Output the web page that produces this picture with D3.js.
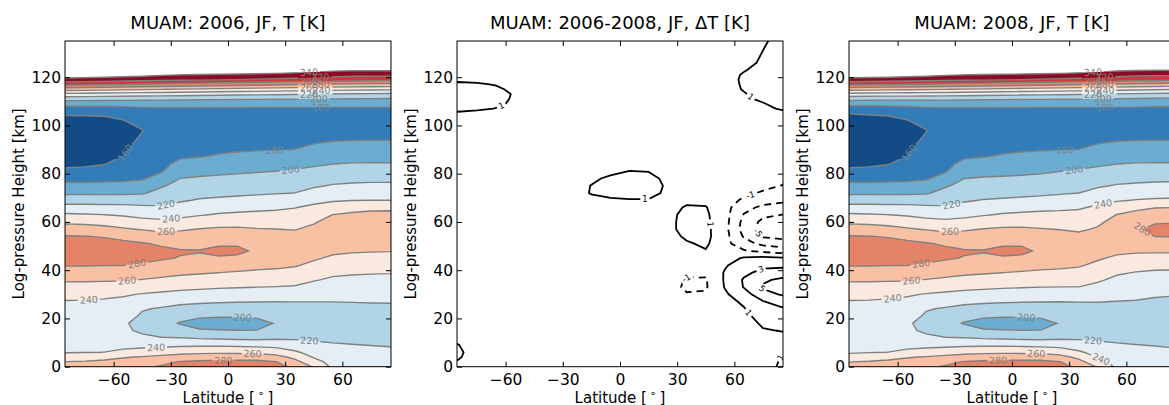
<!DOCTYPE html>
<html>
<head>
<meta charset="utf-8">
<script src="https://cdn.jsdelivr.net/npm/d3@7"></script>
<style>
  body { margin: 0; background: #fff; }
  svg { display: block; font-family: "DejaVu Sans", sans-serif; }
</style>
</head>
<body>
<svg id="fig" width="1169" height="405"></svg>
<script>
// ---- grid coordinates -------------------------------------------------------
const latitudes = [-85, -75, -65, -55, -45, -35, -25, -15, -5, 5, 15, 25, 35, 45, 55, 65, 75, 85];
const heights = [0, 2, 4, 6, 9, 12, 15, 18, 21, 24, 27, 30, 33, 36, 39, 42, 45, 48, 51, 54, 57, 60,
  63, 66, 69, 72, 75, 78, 81, 84, 87, 90, 94, 98, 102, 105, 107, 109, 111, 113, 115, 117, 119,
  121, 123, 126, 135];

// ---- zonal-mean temperature, January/February 2006 [K] (rows: heights, cols: latitudes)
const temp2006 = [
  [266, 268, 270, 272, 276, 282, 287, 290, 292, 292, 291, 286, 276, 258, 236, 233, 232, 232],
  [260.6, 261.8, 263.8, 265.7, 268.6, 274.7, 281.2, 282.9, 284, 284, 284.4, 280.8, 266, 247.7, 232.7, 230.2, 229.3, 229.1],
  [248.1, 250.7, 254.3, 258.5, 261.1, 264.2, 268.2, 270.4, 271.7, 271.7, 270.8, 266.4, 255.2, 238.5, 229.5, 227.4, 226.5, 226.2],
  [239, 239.4, 240.1, 243.7, 248.7, 252, 254.4, 255.6, 256.3, 256.1, 255.3, 252.5, 243, 232.5, 226.2, 224.6, 223.8, 223.3],
  [234.7, 234.9, 234.7, 235, 233.8, 234.5, 236.2, 236.8, 237, 236, 234.6, 232.9, 227.8, 223.6, 221.3, 220.4, 219.7, 218.9],
  [230.4, 230.5, 229.3, 229, 222.9, 220.4, 220.1, 217.8, 216.4, 215, 214.6, 216.8, 217.2, 217, 216.8, 216.3, 214.9, 214],
  [226, 226, 224, 222.5, 217.5, 214.2, 208, 201.6, 201, 200.3, 200.3, 208.9, 211.1, 212, 212.4, 212.1, 210.2, 209.2],
  [228, 228, 226.5, 222.5, 214, 208, 198.5, 194, 192, 192, 194, 201, 205, 207, 208, 208, 208.4, 207.5],
  [231, 231, 231, 228, 217.3, 213.1, 205.9, 202.4, 201.7, 201.6, 202.4, 207.3, 210, 211.3, 212, 212.1, 212.5, 212],
  [234.5, 234.5, 234, 232.3, 221.5, 218.3, 214.7, 212.5, 211.7, 211.3, 211.5, 213.7, 215, 215.7, 216.1, 216.3, 216.6, 216.5],
  [239, 238.7, 237.9, 236.5, 230.3, 226.7, 224.1, 222.8, 221.7, 221, 220.6, 220.2, 220.2, 220.2, 220.2, 220.5, 220.8, 221.1],
  [246.1, 245.1, 243.6, 241.7, 239.1, 236.7, 234.5, 233, 231.9, 231, 230.3, 229.7, 229.2, 227.1, 225.8, 225.7, 225.8, 226],
  [253.9, 253.5, 252.7, 251.7, 249.2, 246.7, 244.6, 243.2, 241.8, 240.9, 240.1, 239.4, 238.5, 234.1, 231.5, 231, 230.8, 230.8],
  [262.3, 262.2, 261.9, 261.5, 259.4, 256.7, 254.4, 252.7, 250.9, 249.7, 248.7, 248, 246.7, 241.3, 237.2, 236.2, 235.8, 235.7],
  [272, 271.7, 271.3, 270.8, 268.9, 266.2, 263.3, 261.8, 260.1, 258.5, 257.4, 256.6, 254.7, 248.8, 243.5, 241.8, 241.1, 240.7],
  [280.9, 280.8, 280.3, 280.1, 278.4, 275.4, 271, 269.4, 269, 267.5, 264.4, 263.1, 261.3, 256.3, 250.6, 248.6, 247.8, 247.3],
  [286.5, 286.4, 285.2, 284.5, 283, 281.7, 279.2, 277, 277.9, 276.4, 270.7, 268.2, 265.3, 262, 257.6, 255.5, 254.4, 254],
  [292, 292, 290, 289, 285.8, 282.9, 281.5, 281, 285, 284, 277, 273.3, 269.3, 266, 262.7, 261.7, 261.1, 260.7],
  [286.5, 286.2, 284.5, 283.6, 281.3, 278.2, 273.8, 273.3, 277.1, 277.9, 271.6, 271.3, 270.2, 270, 266.7, 266.9, 267.4, 267.2],
  [281.1, 280.4, 279.1, 275.6, 271.5, 267.3, 266.3, 267, 269.8, 270.3, 266.3, 265.6, 264.8, 266.5, 270.7, 272.1, 275, 275],
  [269.6, 268.3, 266, 262.2, 258.7, 256, 258, 260.6, 262.4, 262.6, 260.9, 260.2, 259.3, 262.9, 269, 274.5, 277.5, 277.5],
  [256.4, 255.3, 253.3, 250, 246.3, 244, 246, 249.6, 252.6, 253.3, 252.9, 252.5, 252.7, 258.8, 264.5, 269, 273.3, 273.5],
  [242.7, 241.4, 240.2, 237.9, 234.5, 232.7, 235.4, 238.6, 241.5, 243.3, 244.3, 245, 246.2, 251.3, 260.1, 263, 264.3, 264.5],
  [227.4, 226.8, 226, 225.4, 223.6, 221.8, 226.2, 230, 232.1, 233.8, 235.4, 236.9, 239.4, 243.8, 248.7, 253, 255.8, 256.2],
  [211.6, 211.6, 211.3, 211.5, 211.1, 213.8, 218, 221.4, 223, 224.6, 226.2, 227.7, 229.7, 235.4, 238.1, 239.4, 239.9, 239.9],
  [196.9, 196.9, 196.8, 197.1, 198, 206.3, 212, 214.7, 215.8, 216.8, 217.9, 218.9, 220.1, 226.2, 229.7, 231.1, 231.8, 231.8],
  [185.1, 185.1, 184.8, 184.6, 186, 198, 206, 208.4, 209.5, 210.5, 211.6, 212.6, 214, 217.8, 221.4, 222.8, 223.6, 223.6],
  [173.6, 174, 175.1, 176.6, 178.5, 186, 200.1, 202.1, 203.2, 204.2, 205.3, 206.3, 208, 211.1, 214.1, 215.3, 215.9, 215.9],
  [162.3, 163.5, 166.8, 171.2, 175.4, 178.6, 192, 194.7, 196.3, 197.6, 198.8, 200.1, 202, 204.4, 207.1, 208.2, 208.5, 208.5],
  [157.5, 157.8, 159.5, 165.9, 172.3, 176, 184, 186.7, 188.8, 190.2, 191.6, 192.8, 195, 197.6, 199.9, 201.1, 201.1, 201.1],
  [154.4, 154.5, 156.6, 160.5, 169.2, 173.2, 178.4, 179.5, 181.3, 182.9, 184.3, 185.5, 187.5, 190.6, 193.3, 194.4, 194.6, 194.6],
  [151.2, 151.2, 153.8, 158.2, 166.1, 170.5, 175.3, 176.7, 177.9, 178.5, 179.1, 179.4, 180.1, 183.5, 186.7, 187.8, 188, 188],
  [148.4, 148.4, 150, 155.6, 162.1, 166.9, 171.2, 172.9, 174.4, 175.2, 175.9, 176.1, 176.4, 177.6, 178.9, 179.4, 179.6, 179.7],
  [153.3, 153.2, 153.9, 156.9, 159.6, 169.2, 169.1, 170.9, 171, 172, 172.8, 172.8, 172.9, 173.9, 174.3, 174.5, 174.6, 174.6],
  [157.5, 157.5, 157.8, 159.4, 165.9, 173.6, 173.5, 174.5, 174.6, 175.2, 174.7, 174.7, 174.7, 174, 174, 174, 174, 174],
  [161, 161.2, 161.5, 165, 172.9, 176.8, 176.7, 177.3, 177.3, 177.6, 177.4, 177.4, 177.4, 177, 177, 177, 177, 177],
  [172, 172.5, 173, 175, 177.6, 178, 178, 178, 178, 178, 178, 178, 178, 178, 178, 178, 178, 178],
  [188.3, 188, 188, 187.8, 187.5, 187.3, 187, 186.8, 186.7, 186.6, 186.4, 186.2, 186, 185.8, 185.7, 185.5, 185.4, 185.3],
  [207.5, 206.8, 206.2, 205.5, 204.8, 204.1, 203.5, 202.8, 202.2, 201.8, 201.4, 201, 200.6, 200.2, 199.8, 199.4, 199, 198.7],
  [235.4, 234.2, 233, 231.8, 230.6, 229.4, 228.2, 227, 225.7, 224.7, 223.7, 222.7, 221.6, 220.5, 219.4, 218.3, 217.7, 217.1],
  [269.1, 267.4, 265.7, 264, 262.2, 260.5, 258.8, 257.1, 255.4, 253.9, 252.4, 250.9, 249.4, 247.9, 246.4, 244.9, 243.9, 242.9],
  [305.5, 303.5, 301.4, 299.4, 297.3, 295.3, 293.2, 291.2, 289.1, 287.3, 285.4, 283.6, 281.7, 279.9, 278, 276.2, 274.7, 273.3],
  [333.3, 331.9, 330.4, 329, 327.5, 326.1, 324.6, 323.2, 321.7, 320.1, 318.2, 316.5, 314.8, 313, 311.3, 309.6, 308.1, 306.7],
  [352.6, 351.7, 350, 348, 345.4, 341.8, 340.2, 339.1, 338.2, 337.3, 336.4, 334.6, 332.8, 330, 326.5, 324.7, 324.7, 324.7],
  [370.6, 369.7, 368, 366, 363.4, 359.8, 358, 357.1, 356.2, 355.3, 354.4, 352.6, 350.8, 348, 344.5, 342.7, 342.7, 342.7],
  [397.6, 396.7, 395, 393, 390.4, 386.8, 385, 384.1, 383.2, 382.3, 381.4, 379.6, 377.8, 375, 371.5, 369.7, 369.7, 369.7],
  [451.6, 450.7, 449, 447, 444.4, 440.8, 439, 438.1, 437.2, 436.3, 435.4, 433.6, 431.8, 429, 425.5, 423.7, 423.7, 423.7]
];

// ---- temperature difference 2006 minus 2008 [K], same grid
const deltaT = [
  [0.6, 0.3, 0, 0, 0, 0, 0, 0, 0, 0, 0, 0, 0, 0, 0, 0, 0.4, 1.25],
  [0.9, 0.3, 0, 0, 0, 0, 0, 0, 0, 0, 0, 0, 0, 0, 0, 0.1, 0.4, 1.15],
  [1.15, 0.4, 0, 0, 0, 0, 0, 0, 0, 0, 0, 0, 0, 0, 0, 0.1, 0.3, 1.05],
  [1.25, 0.4, 0, 0, 0, 0, 0, 0, 0, 0, 0, 0, 0, 0, 0, 0.1, 0.2, 0.8],
  [1.05, 0.3, 0, 0, 0, 0, 0, 0, 0, 0, 0, 0, 0, 0, 0, 0.1, 0.3, 0.6],
  [0.6, 0.2, 0, 0, 0, 0, 0, 0, 0, 0, 0, 0, 0, 0, 0, 0.2, 0.4, 0.7],
  [0.2, 0, 0, 0, 0, 0, 0, 0, 0, 0, 0, 0, 0, 0, 0.1, 0.3, 0.9, 1.05],
  [0, 0, 0, 0, 0, 0, 0, 0, 0, 0, 0, 0, 0, 0, 0.1, 0.4, 1.2, 1.4],
  [0, 0, 0, 0, 0, 0, 0, 0, 0, 0, 0, 0, 0, 0, 0.2, 0.6, 1.6, 2.0],
  [0, 0, 0, 0, 0, 0, 0, 0, 0, 0, 0, 0, 0, 0, 0.3, 0.9, 2.2, 2.8],
  [0, 0, 0, 0, 0, 0, 0, 0, 0, 0, 0, 0, -0.2, -0.2, 0.4, 1.3, 2.9, 3.8],
  [0, 0, 0, 0, 0, 0, 0, 0, 0, 0, 0, -0.3, -0.9, -0.8, 0.7, 2.2, 4.2, 5.2],
  [0, 0, 0, 0, 0, 0, 0, 0, 0, 0, 0, -0.4, -1.25, -1.2, 1.1, 3.1, 5.3, 6.0],
  [0, 0, 0, 0, 0, 0, 0, 0, 0, 0, 0, -0.3, -1.15, -1.15, 1.2, 3.2, 4.6, 5.5],
  [0, 0, 0, 0, 0, 0, 0, 0, 0, 0, 0, -0.1, -0.6, -0.7, 1.15, 2.6, 3.5, 3.6],
  [0, 0, 0, 0, 0, 0, 0, 0, 0, 0, 0, 0, -0.2, -0.2, 0.8, 2.0, 2.6, 2.7],
  [0, 0, 0, 0, 0, 0, 0, 0, 0, 0, 0, 0, 0, 0.3, 0.2, 1.2, 1.5, 1.2],
  [0, 0, 0, 0, 0, 0, 0, 0, 0, 0, 0, 0, 0.3, 0.9, -0.5, -0.8, -1.5, -2],
  [0, 0, 0, 0, 0, 0, 0, 0, 0, 0, 0, 0.1, 0.8, 1.3, -0.4, -2.2, -3.5, -4],
  [0, 0, 0, 0, 0, 0, 0, 0, 0, 0, 0, 0.3, 1.3, 1.5, -0.3, -3.2, -5.2, -5.6],
  [0, 0, 0, 0, 0, 0, 0, 0, 0, 0, 0, 0.6, 1.5, 1.5, -0.4, -3.8, -5.8, -6],
  [0, 0, 0, 0, 0, 0, 0, 0, 0, 0, 0, 0.6, 1.5, 1.4, -0.3, -3.6, -5.5, -5.8],
  [0, 0, 0, 0, 0, 0, 0, 0, 0, 0, 0, 0.6, 1.4, 1.3, -0.3, -3.1, -4.6, -5],
  [0, 0, 0, 0, 0, 0, 0, 0, 0, 0, 0, 0.3, 1.2, 1.1, -0.3, -2.4, -3.4, -3.8],
  [0, 0, 0, 0, 0, 0, 0.1, 0.6, 0.8, 0.9, 0.9, 0.4, 0.6, 0.6, -0.2, -1.3, -2.2, -2.6],
  [0, 0, 0, 0, 0, 0, 0.3, 1.1, 1.4, 1.5, 1.5, 0.7, 0.2, 0.1, 0, -0.6, -1.2, -1.7],
  [0, 0, 0, 0, 0, 0, 0.3, 1.05, 1.5, 1.6, 1.6, 0.8, 0, 0, 0, -0.2, -0.6, -1.05],
  [0, 0, 0, 0, 0, 0, 0.2, 0.7, 1.3, 1.4, 1.5, 0.6, 0, 0, 0, 0, -0.2, -0.5],
  [0, 0, 0, 0, 0, 0, 0, 0.3, 0.6, 1.05, 0.95, 0.3, 0, 0, 0, 0, 0, -0.1],
  [0, 0, 0, 0, 0, 0, 0, 0, 0, 0, 0, 0, 0, 0, 0, 0, 0, 0],
  [0, 0, 0, 0, 0, 0, 0, 0, 0, 0, 0, 0, 0, 0, 0, 0, 0, 0],
  [0, 0, 0, 0, 0, 0, 0, 0, 0, 0, 0, 0, 0, 0, 0, 0, 0, 0],
  [0, 0, 0, 0, 0, 0, 0, 0, 0, 0, 0, 0, 0, 0, 0, 0, 0, 0],
  [0, 0, 0, 0, 0, 0, 0, 0, 0, 0, 0, 0, 0, 0, 0, 0, 0, 0],
  [0, 0, 0, 0, 0, 0, 0, 0, 0, 0, 0, 0, 0, 0, 0, 0, 0, 0],
  [0.8, 0.5, 0.2, 0, 0, 0, 0, 0, 0, 0, 0, 0, 0, 0, 0.1, 0.1, 0.3, 0.6],
  [1.4, 1.3, 0.95, 0.5, 0, 0, 0, 0, 0, 0, 0, 0, 0, 0, 0.2, 0.2, 0.6, 1.2],
  [1.6, 1.5, 1.3, 0.7, 0.1, 0, 0, 0, 0, 0, 0, 0, 0, 0, 0.3, 0.4, 0.9, 1.6],
  [1.7, 1.6, 1.45, 0.8, 0.1, 0, 0, 0, 0, 0, 0, 0, 0, 0, 0.3, 0.7, 1.3, 1.7],
  [1.7, 1.6, 1.5, 0.85, 0.1, 0, 0, 0, 0, 0, 0, 0, 0, 0, 0.4, 0.9, 1.5, 1.7],
  [1.6, 1.5, 1.3, 0.6, 0, 0, 0, 0, 0, 0, 0, 0, 0, 0, 0.45, 1.1, 1.5, 1.7],
  [1.3, 1.2, 0.9, 0.3, 0, 0, 0, 0, 0, 0, 0, 0, 0, 0, 0.5, 1.15, 1.5, 1.7],
  [0.7, 0.6, 0.4, 0.1, 0, 0, 0, 0, 0, 0, 0, 0, 0, 0, 0.5, 1.2, 1.5, 1.7],
  [0.2, 0.2, 0.1, 0, 0, 0, 0, 0, 0, 0, 0, 0, 0, 0, 0.4, 1.15, 1.5, 1.7],
  [0, 0, 0, 0, 0, 0, 0, 0, 0, 0, 0, 0, 0, 0, 0.3, 0.9, 1.5, 1.6],
  [0, 0, 0, 0, 0, 0, 0, 0, 0, 0, 0, 0, 0, 0, 0.2, 0.6, 1.2, 1.5],
  [0, 0, 0, 0, 0, 0, 0, 0, 0, 0, 0, 0, 0, 0, 0.1, 0.4, 0.85, 1.4]
];

// the 2008 field follows from the 2006 field and the plotted difference (ΔT = T2006 − T2008)
const temp2008 = temp2006.map((row, j) => row.map((v, i) => Math.round((v - deltaT[j][i]) * 100) / 100));

// ---- contour levels and axis ticks
const tLevels = [140, 160, 180, 200, 220, 240, 260, 280, 300, 320, 340];
const dtLevels = [-5, -3, -1, 1, 3, 5];
const xTicks = [-60, -30, 0, 30, 60];
const yTicks = [0, 20, 40, 60, 80, 100, 120];
const titles = ["MUAM: 2006, JF, T [K]", "MUAM: 2006-2008, JF, ΔT [K]", "MUAM: 2008, JF, T [K]"];

// ---- inline contour labels: [level, latitude, height]
const thermoLabels = [
  [180, 48.5, 108.1], [200, 47.6, 111.3], [220, 42.5, 113.4], [240, 49, 114.8], [260, 42.5, 116],
  [280, 48.5, 117.2], [300, 42.5, 118.5], [320, 48.5, 119.8], [340, 42.5, 121.5]
];
const labels2006 = [
  [160, -52.5, 87.8], [180, 24.4, 89.6], [200, 33, 80.2], [220, -32.5, 66.7],
  [240, -29.8, 61.3], [260, -32.5, 56], [280, -47.6, 41.9], [260, -52.9, 35.5],
  [240, -73, 27.7], [200, 7.7, 20.7], [220, 42.6, 9.7], [240, -37.7, 7.6],
  [260, 12.9, 5.3], [280, -2.4, 2.5], ...thermoLabels
];
const labels2008 = [
  [160, -52.7, 87.8], [180, 27.6, 89.9], [200, 32.8, 80.2], [220, -31.7, 67.1],
  [240, 47.6, 68.2], [260, -32.5, 56], [280, 64.2, 56.3], [280, -47.4, 41.9],
  [260, -52.7, 35.5], [240, -62.6, 28.1], [200, 7.5, 20.7], [220, 42.4, 9.7],
  [240, 47.6, 4.8], [260, 12.7, 5.3], [280, -7.3, 2.5], ...thermoLabels
];
const labelsDelta = [
  [1, -63.7, 110.7], [1, 68, 111.3], [1, 13.1, 72.2], [1, 49.2, 59.2],
  [-1, 33.5, 38.5], [-1, 68, 72.2], [-5, 70.7, 54.6], [3, 74.2, 39.8],
  [5, 74.2, 32.1], [1, 69, 23.5], [1, 82, 4.8]
];

// ---- layout
const plotTop = 41, plotBottom = 366.7, plotWidth = 326;
const panelLefts = [65, 457, 849];
const latDomain = [-85.5, 85.5];
const hDomain = [0, 135];

// RdBu reversed, piecewise linear as in the classic colormap
const rdbuR = ["#053061", "#2166ac", "#4393c3", "#92c5de", "#d1e5f0", "#f7f7f7",
               "#fddbc7", "#f4a582", "#d6604d", "#b2182b", "#67001f"];
const cmap = d3.scaleLinear().domain(d3.range(11).map(i => i / 10)).range(rdbuR)
  .interpolate(d3.interpolateRgb).clamp(true);
const tStep = tLevels[1] - tLevels[0];
const tLo = tLevels[0], tHi = tLevels[tLevels.length - 1];
const bandColor = v => v >= tHi ? "#ffffff" : cmap((v + tStep / 2 - tLo) / (tHi - tLo));

const svg = d3.select("#fig");
const defs = svg.append("defs");
const nCols = latitudes.length, nRows = heights.length;
const dLat = latitudes[1] - latitudes[0];

// contour-grid coordinates -> data coordinates (rows are unevenly spaced in height)
const gridLat = gx => latitudes[0] + (gx - 0.5) * dLat;
const gridHeight = gy => {
  const t = gy - 0.5;
  const j = Math.max(0, Math.min(nRows - 2, Math.floor(t)));
  return heights[j] + (t - j) * (heights[j + 1] - heights[j]);
};

const panels = [
  { field: temp2006, kind: "fill", labels: labels2006 },
  { field: deltaT, kind: "line", labels: labelsDelta },
  { field: temp2008, kind: "fill", labels: labels2008 }
];

panels.forEach((p, k) => {
  const left = panelLefts[k], right = left + plotWidth;
  const x = d3.scaleLinear().domain(latDomain).range([left, right]);
  const y = d3.scaleLinear().domain(hDomain).range([plotBottom, plotTop]);
  const toPx = ([gx, gy]) => [x(gridLat(gx)), y(gridHeight(gy))];
  const path = d3.geoPath(d3.geoTransform({
    point(gx, gy) { const q = toPx([gx, gy]); this.stream.point(q[0], q[1]); }
  }));

  const clipId = "clip" + k;
  defs.append("clipPath").attr("id", clipId).append("rect")
    .attr("x", left).attr("y", plotTop).attr("width", plotWidth).attr("height", plotBottom - plotTop);

  const isFill = p.kind === "fill";
  const levels = isFill ? tLevels : dtLevels;
  const contours = d3.contours().size([nCols, nRows]).thresholds(levels)(p.field.flat());

  const body = svg.append("g").attr("clip-path", `url(#${clipId})`);
  if (isFill) {
    body.append("g").selectAll("path").data(contours).join("path")
      .attr("d", path).attr("fill", d => bandColor(d.value)).attr("stroke", "none");
  }

  // place each label on the nearest point of its contour, aligned with the line
  const placed = p.labels.map(([lev, lat, h]) => {
    const tx = x(lat), ty = y(h);
    const c = contours.find(cc => cc.value === lev);
    let best = null;
    if (c) c.coordinates.forEach(poly => poly.forEach(ring => {
      const pts = ring.map(toPx);
      for (let i = 0; i < pts.length - 1; i++) {
        const a = pts[i], b = pts[i + 1];
        const dx = b[0] - a[0], dy = b[1] - a[1];
        const L2 = dx * dx + dy * dy;
        if (L2 === 0) continue;
        let t = ((tx - a[0]) * dx + (ty - a[1]) * dy) / L2;
        t = Math.max(0, Math.min(1, t));
        const px = a[0] + t * dx, py = a[1] + t * dy;
        if (px < left + 1 || px > right - 1 || py < plotTop + 1 || py > plotBottom - 1) continue;
        const d2 = (px - tx) ** 2 + (py - ty) ** 2;
        if (!best || d2 < best.d2) best = { d2, px, py, ang: Math.atan2(dy, dx) * 180 / Math.PI };
      }
    }));
    let ang = best ? best.ang : 0;
    if (ang > 90) ang -= 180;
    if (ang < -90) ang += 180;
    return { lev, x: best ? best.px : tx, y: best ? best.py : ty, ang };
  });

  const maskId = "mask" + k;
  const mask = defs.append("mask").attr("id", maskId).attr("maskUnits", "userSpaceOnUse")
    .attr("x", 0).attr("y", 0).attr("width", 1169).attr("height", 405);
  mask.append("rect").attr("x", 0).attr("y", 0).attr("width", 1169).attr("height", 405).attr("fill", "white");

  const lines = body.append("g").attr("mask", `url(#${maskId})`);
  lines.selectAll("path").data(contours).join("path")
    .attr("d", path).attr("fill", "none")
    .attr("stroke", isFill ? "#808080" : "#000")
    .attr("stroke-width", isFill ? 1.4 : 1.8)
    .attr("stroke-dasharray", d => (!isFill && d.value < 0) ? "7,5" : null);

  const fontSize = isFill ? 9.5 : 8.5;
  const labelG = body.append("g")
    .attr("font-size", fontSize).attr("fill", isFill ? "#808080" : "#000")
    .attr("text-anchor", "middle");
  placed.forEach(l => {
    const txt = labelG.append("text")
      .attr("transform", `translate(${l.x},${l.y}) rotate(${l.ang})`)
      .attr("dy", "0.35em")
      .text(l.lev < 0 ? "-" + Math.abs(l.lev) : String(l.lev));
    const w = txt.node().getComputedTextLength() + 4;
    mask.append("rect")
      .attr("x", -w / 2).attr("y", -fontSize * 0.55).attr("width", w).attr("height", fontSize * 1.1)
      .attr("transform", `translate(${l.x},${l.y}) rotate(${l.ang})`)
      .attr("fill", "black");
  });

  // axes: inward ticks on all four sides
  const styleAxis = g => {
    g.select(".domain").remove();
    g.attr("font-size", 15.5).attr("font-family", "DejaVu Sans");
    g.selectAll(".tick line").attr("stroke", "#000");
    g.selectAll(".tick text").attr("fill", "#000");
  };
  svg.append("g").attr("transform", `translate(0,${plotBottom})`)
    .call(d3.axisBottom(x).tickValues(xTicks).tickSize(-5).tickPadding(7.3).tickFormat(d3.format("d")))
    .call(styleAxis);
  svg.append("g").attr("transform", `translate(0,${plotTop})`)
    .call(d3.axisTop(x).tickValues(xTicks).tickSize(-5).tickFormat(() => ""))
    .call(styleAxis);
  svg.append("g").attr("transform", `translate(${left},0)`)
    .call(d3.axisLeft(y).tickValues(yTicks).tickSize(-5).tickPadding(4).tickFormat(d3.format("d")))
    .call(styleAxis);
  svg.append("g").attr("transform", `translate(${right},0)`)
    .call(d3.axisRight(y).tickValues(yTicks).tickSize(-5).tickFormat(() => ""))
    .call(styleAxis);

  svg.append("rect").attr("x", left).attr("y", plotTop).attr("width", plotWidth)
    .attr("height", plotBottom - plotTop).attr("fill", "none").attr("stroke", "#000").attr("stroke-width", 1);

  // title and axis labels
  svg.append("text").attr("x", (left + right) / 2).attr("y", 29.3).attr("text-anchor", "middle")
    .attr("font-size", 18).text(titles[k]);

  const xl = svg.append("text").attr("x", (left + right) / 2).attr("y", 402.5)
    .attr("text-anchor", "middle").attr("font-size", 15);
  xl.append("tspan").text("Latitude [");
  xl.append("tspan").attr("dx", 3).attr("dy", -6).attr("font-size", 10.5).text("∘");
  xl.append("tspan").attr("dx", 3).attr("dy", 6).text("]");

  svg.append("text")
    .attr("transform", `translate(${left - 41.5},${(plotTop + plotBottom) / 2}) rotate(-90)`)
    .attr("text-anchor", "middle").attr("font-size", 15)
    .text("Log-pressure Height [km]");
});
</script>
</body>
</html>
